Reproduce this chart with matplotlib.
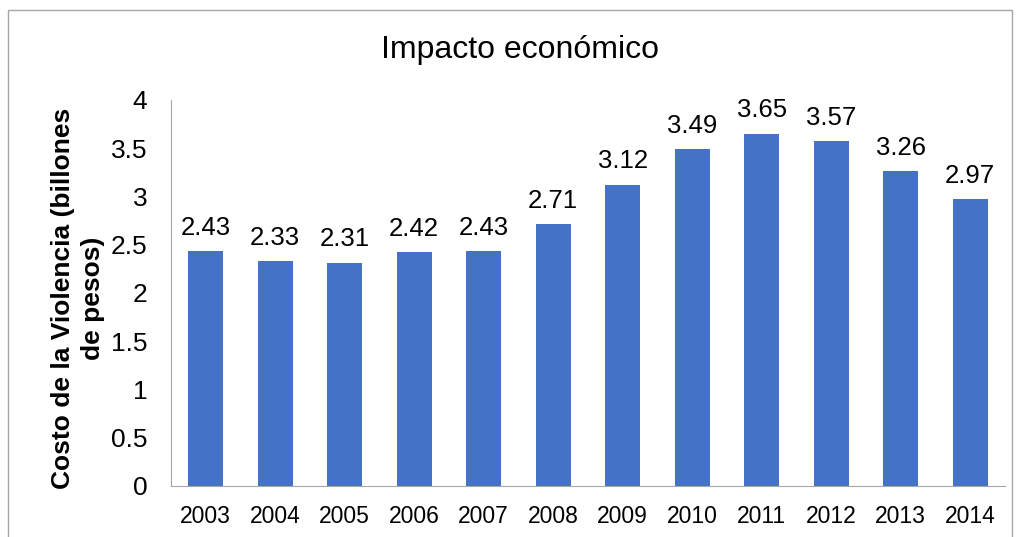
import matplotlib.pyplot as plt
from matplotlib.patches import Rectangle

plt.rcParams['font.family'] = ['Liberation Sans', 'DejaVu Sans']

years = ['2003', '2004', '2005', '2006', '2007', '2008',
         '2009', '2010', '2011', '2012', '2013', '2014']
costo = [2.43, 2.33, 2.31, 2.42, 2.43, 2.71, 3.12, 3.49, 3.65, 3.57, 3.26, 2.97]
yticks = [0, 0.5, 1, 1.5, 2, 2.5, 3, 3.5, 4]

fig = plt.figure(figsize=(10.2, 5.37), dpi=100)
ax = fig.add_axes([0.1676, 0.095, 0.8177, 0.7188])

x = range(len(years))
ax.bar(x, costo, width=0.5, color='#4472c4')
for i, v in enumerate(costo):
    ax.text(i, v + 0.12, '{:.2f}'.format(v), ha='center', va='bottom', fontsize=18.5)

ax.set_xlim(-0.5, len(years) - 0.5)
ax.set_ylim(0, 4)
ax.set_xticks(list(x))
ax.set_xticklabels(years, fontsize=16.5)
ax.set_yticks(yticks)
ax.set_yticklabels([('%g' % t) for t in yticks], fontsize=19)
ax.tick_params(length=0)
ax.tick_params(axis='x', pad=14)
ax.tick_params(axis='y', pad=17)

for s in ['top', 'right']:
    ax.spines[s].set_visible(False)
for s in ['left', 'bottom']:
    ax.spines[s].set_color('#a6a6a6')

ax.set_ylabel('Costo de la Violencia (billones\nde pesos)', fontsize=19,
              fontweight='bold', linespacing=1.3)
ax.yaxis.set_label_coords(-0.079, 0.487)

fig.text(0.51, 1 - 50 / 537, 'Impacto económico', ha='center', va='center', fontsize=23)

# marco exterior
fig.patches.append(Rectangle((8 / 1020, -0.05), 1004 / 1020, 1.05 - 10 / 537,
                             transform=fig.transFigure, fill=False,
                             edgecolor='#a6a6a6', lw=1))

fig.savefig('out.png', dpi=100)
